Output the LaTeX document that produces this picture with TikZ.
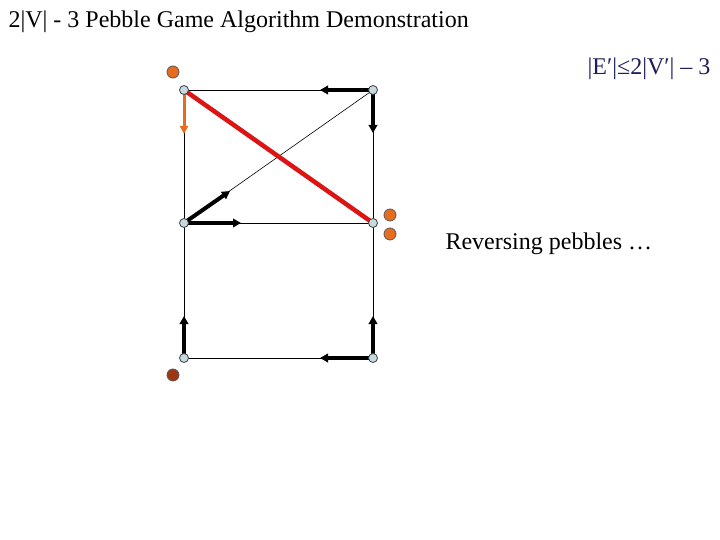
\documentclass[tikz,border=0pt]{standalone}
\usepackage{fontspec}
\setmainfont{Liberation Serif}
\usetikzlibrary{arrows.meta}
\definecolor{vfill}{RGB}{196,218,222}
\definecolor{peb}{RGB}{232,108,30}
\definecolor{pebbrown}{RGB}{156,56,16}
\definecolor{redline}{RGB}{220,20,20}
\definecolor{navy}{RGB}{30,30,90}
\begin{document}
\begin{tikzpicture}[x=1pt,y=-1pt,
  vert/.style={circle,draw=black!75,fill=vfill,line width=0.8pt,inner sep=0pt,minimum size=9pt},
  pebble/.style={circle,draw=black!65,fill=peb,line width=0.8pt,inner sep=0pt,minimum size=12pt},
  thin edge/.style={draw=black,line width=0.9pt},
  thick arrow/.style={draw=black,line width=4pt,-{Triangle[length=8pt,width=8.5pt]}},
  orange arrow/.style={draw=peb,line width=3pt,-{Triangle[length=8pt,width=8pt]}}]
\useasboundingbox (0,0) rectangle (720,540);
\node[anchor=west,font=\fontsize{24}{28}\selectfont] (title) at (5,22) {2|V| - 3 Pebble Game Algorithm Demonstration};
\node[anchor=east,font=\fontsize{24}{28}\selectfont,text=navy] (formula) at (714,69) {|E′|≤2|V′| – 3};
\node[anchor=west,font=\fontsize{24}{28}\selectfont] (rev) at (442,244) {Reversing pebbles …};
\coordinate (A) at (184,90);
\coordinate (B) at (373,90);
\coordinate (C) at (184,223);
\coordinate (D) at (373,223);
\coordinate (E) at (184,358);
\coordinate (F) at (373,358);
\draw[thin edge] (A) -- (B) (A) -- (C) (B) -- (D) (C) -- (D) (C) -- (E) (D) -- (F) (E) -- (F);
\draw[draw=black,line width=0.6pt] (C) -- (B);
\draw[draw=redline,line width=4.5pt] (A) -- (D);
\coordinate (b1) at (320,90);
\coordinate (b2) at (373,133);
\coordinate (a1) at (184,134);
\coordinate (c1) at (230,191);
\coordinate (c2) at (241,223);
\coordinate (e1) at (184,316);
\coordinate (f1) at (373,316);
\coordinate (f2) at (320,358);
\draw[thick arrow] (B) -- (b1);
\draw[thick arrow] (B) -- (b2);
\draw[orange arrow] (A) -- (a1);
\draw[thick arrow] (C) -- (c1);
\draw[thick arrow] (C) -- (c2);
\draw[thick arrow] (E) -- (e1);
\draw[thick arrow] (F) -- (f1);
\draw[thick arrow] (F) -- (f2);
\node[vert] (vA) at (A) {};
\node[vert] (vB) at (B) {};
\node[vert] (vC) at (C) {};
\node[vert] (vD) at (D) {};
\node[vert] (vE) at (E) {};
\node[vert] (vF) at (F) {};
\node[pebble] (p1) at (173,72) {};
\node[pebble] (p2) at (390,215) {};
\node[pebble] (p3) at (390,234) {};
\node[pebble,fill=pebbrown] (p4) at (173,375) {};
\end{tikzpicture}
\end{document}
